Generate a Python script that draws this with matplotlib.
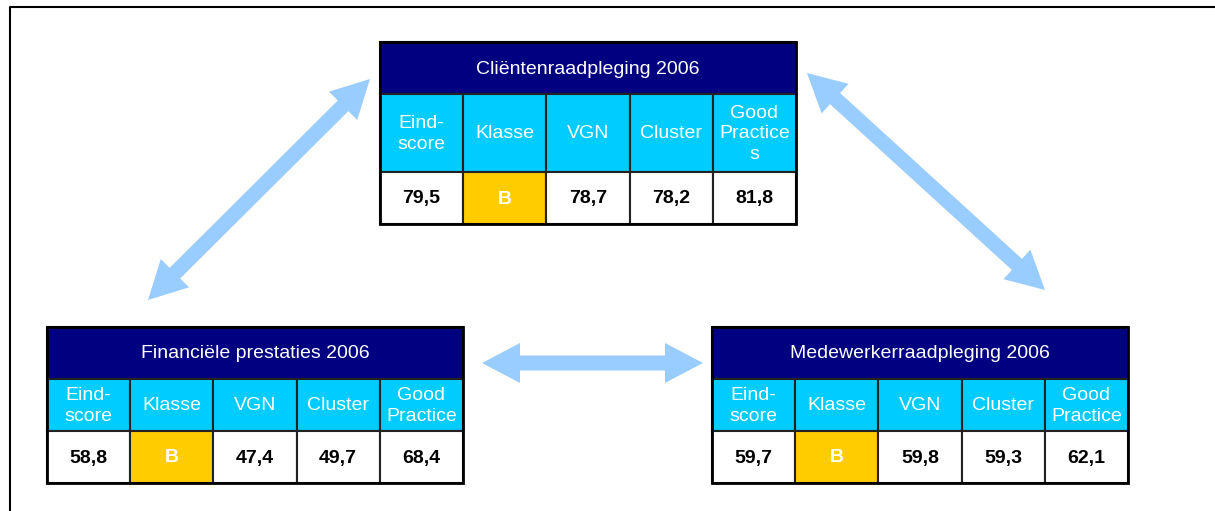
import matplotlib.pyplot as plt
import matplotlib.patches as mpatches
import numpy as np

plt.rcParams['font.family'] = ['Liberation Sans', 'DejaVu Sans']

# data
titles = ["Cliëntenraadpleging 2006", "Financiële prestaties 2006", "Medewerkerraadpleging 2006"]
headers_top = ["Eind-\nscore", "Klasse", "VGN", "Cluster", "Good\nPractice\ns"]
headers_bottom = ["Eind-\nscore", "Klasse", "VGN", "Cluster", "Good\nPractice"]
eindscore = ["79,5", "58,8", "59,7"]
klasse = ["B", "B", "B"]
vgn = ["78,7", "47,4", "59,8"]
cluster = ["78,2", "49,7", "59,3"]
good_practice = ["81,8", "68,4", "62,1"]

NAVY = "#000080"
CYAN = "#00ccff"
GOLD = "#ffcc00"
ARROW = "#99ccff"

W, H = 1215, 511
fig = plt.figure(figsize=(W / 100, H / 100), dpi=100)
ax = fig.add_axes([0, 0, 1, 1])
ax.set_xlim(0, W)
ax.set_ylim(H, 0)
ax.axis('off')

# outer frame
ax.plot([10, 10, W], [H, 7, 7], color='black', lw=1.5, solid_capstyle='butt')


def draw_table(x0, y0, col_w, title, headers, values):
    row_h = [52, 78 if len(headers[-1].split("\n")) > 2 else 52, 52]
    total_w = col_w * 5
    # header
    ax.add_patch(mpatches.Rectangle((x0, y0), total_w, row_h[0], fc=NAVY, ec='black', lw=1.5))
    ax.text(x0 + total_w / 2, y0 + row_h[0] / 2 + 1, title, color='white', fontsize=14,
            ha='center', va='center')
    y1 = y0 + row_h[0]
    y2 = y1 + row_h[1]
    for i in range(5):
        xi = x0 + i * col_w
        ax.add_patch(mpatches.Rectangle((xi, y1), col_w, row_h[1], fc=CYAN, ec='#222222', lw=1.5))
        ax.text(xi + col_w / 2, y1 + row_h[1] / 2 + 1, headers[i], color='white', fontsize=14,
                ha='center', va='center', linespacing=1.3)
        fc = GOLD if i == 1 else 'white'
        ax.add_patch(mpatches.Rectangle((xi, y2), col_w, row_h[2], fc=fc, ec='#222222', lw=1.5))
        ax.text(xi + col_w / 2, y2 + row_h[2] / 2 + 1, values[i],
                color='white' if i == 1 else 'black', fontsize=14, fontweight='bold',
                ha='center', va='center')
    ax.add_patch(mpatches.Rectangle((x0, y0), total_w, sum(row_h), fc='none', ec='black', lw=2))


def double_arrow(p0, p1, shaft=15, head_w=40, head_l=38):
    p0 = np.array(p0, float)
    p1 = np.array(p1, float)
    d = p1 - p0
    L = np.hypot(*d)
    u = d / L
    n = np.array([-u[1], u[0]])
    pts = [
        p0,
        p0 + u * head_l + n * head_w / 2,
        p0 + u * head_l + n * shaft / 2,
        p1 - u * head_l + n * shaft / 2,
        p1 - u * head_l + n * head_w / 2,
        p1,
        p1 - u * head_l - n * head_w / 2,
        p1 - u * head_l - n * shaft / 2,
        p0 + u * head_l - n * shaft / 2,
        p0 + u * head_l - n * head_w / 2,
    ]
    ax.add_patch(mpatches.Polygon(pts, closed=True, fc=ARROW, ec='none'))


double_arrow((148, 300), (370, 79))
double_arrow((807, 73), (1045, 290))
double_arrow((482, 363), (703, 363))

for k, (x0, y0, cw, hd) in enumerate([(380, 42, 83.2, headers_top),
                                       (47, 327, 83.2, headers_bottom),
                                       (712, 327, 83.2, headers_bottom)]):
    draw_table(x0, y0, cw, titles[k], hd,
               [eindscore[k], klasse[k], vgn[k], cluster[k], good_practice[k]])

fig.savefig("out.png", dpi=100, facecolor='white')
